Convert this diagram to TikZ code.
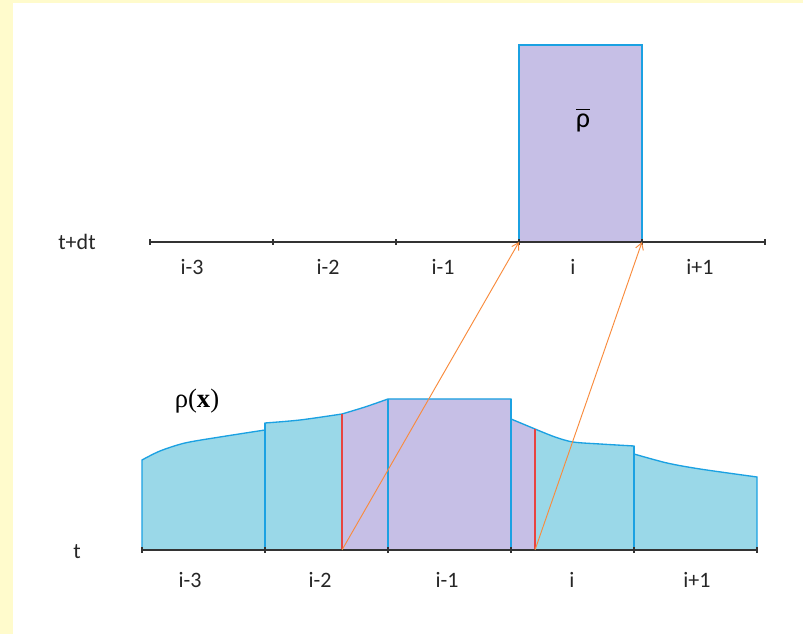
\documentclass[tikz,border=0pt]{standalone}
\usepackage{fontspec}
\setmainfont{Carlito}
\newfontfamily\rhofont{Liberation Serif}
\usepackage{amsmath}
\usetikzlibrary{arrows.meta}

\definecolor{framey}{HTML}{FFFBCC}
\definecolor{cellblue}{HTML}{9AD8E8}
\definecolor{avgpurple}{HTML}{C6BFE6}
\definecolor{edgeblue}{HTML}{1BA1E2}
\definecolor{cutred}{HTML}{E8433F}
\definecolor{fluxorange}{HTML}{F98B3C}

\begin{document}
\begin{tikzpicture}[
  x=0.75pt, y=0.75pt,
  axis/.style={line width=1.1pt, draw=black!80},
  tickmark/.style={line width=1.1pt, draw=black!80},
  celllabel/.style={font=\fontsize{16.5}{18}\selectfont, text=black!85, inner sep=0pt},
  edge/.style={draw=edgeblue, line width=1pt},
  cut/.style={draw=cutred, line width=1pt},
  flux/.style={draw=fluxorange, line width=0.7pt, -{Straight Barb[length=5pt, width=6pt]}},
  rhotop/.style={insert path={
    -- plot[smooth] coordinates {(142,174) (160,183) (185,191) (220,197) (265,204)}
    -- plot[smooth] coordinates {(265,211) (300,214) (342,220)}
    -- plot[smooth] coordinates {(342,220) (365,227) (388,235)}
    -- (511,235) -- (511,215) -- (535,205)
    -- plot[smooth] coordinates {(535,205) (555,197) (573,192) (600,190) (634,188)}
    -- plot[smooth] coordinates {(634,180) (667,171) (700,165) (757,157)}}}
]
% frame
\useasboundingbox (0,0) rectangle (803,634);
\fill[framey] (0,0) rectangle (803,634);
\fill[white] (13,0) rectangle (803,631);

% axis points
\foreach \k in {0,...,5} {
  \coordinate (b\k) at (142+123*\k,84);
  \coordinate (t\k) at (150+123*\k,392);
}
\coordinate (srcL) at (342,84);
\coordinate (srcR) at (535,84);

% rho(x) at time t
\fill[cellblue] (b0) [rhotop] -- (b5) -- cycle;
\fill[avgpurple] (srcL) -- (342,220)
  -- plot[smooth] coordinates {(342,220) (365,227) (388,235)}
  -- (511,235) -- (511,215) -- (535,205) -- (srcR) -- cycle;
\draw[edge] (b0) [rhotop] -- (b5);
\foreach \k/\h in {1/211,2/235,3/235,4/188} \draw[edge] (b\k) -- ++(0,\h-84);
\draw[cut] (srcL) -- (342,220);
\draw[cut] (srcR) -- (535,205);

% averaged cell at t+dt
\draw[edge, fill=avgpurple] (t3) rectangle (t4 |- 0,589);
\node (rhobar) at (583,514) {\fontsize{21}{23}\selectfont$\overline{\text{ρ}}$};

% axes
\draw[axis] (b0) -- (b5);
\draw[axis] (t0) -- (t5);
\foreach \k in {0,...,5} {
  \draw[tickmark] (b\k) ++(0,-3) -- ++(0,6);
  \draw[tickmark] (t\k) ++(0,-3) -- ++(0,6);
}

% cell labels
\foreach \lab/\xb/\xt [count=\n] in {i-3/190/192, i-2/320/328, i-1/447/443, i/572/573, i+1/697/700} {
  \node[celllabel] (blab\n) at (\xb,54) {\lab};
  \node[celllabel] (tlab\n) at (\xt,367) {\lab};
}
\node[celllabel] (tnow) at (77,82) {t};
\node[celllabel] (tnext) at (77,392) {t+dt};
\node (rhox) at (197,233) {\fontsize{20}{22}\selectfont\rhofont ρ(\textbf{x})};

% characteristics
\draw[flux] (srcL) -- (t3);
\draw[flux] (srcR) -- (t4);
\end{tikzpicture}
\end{document}
